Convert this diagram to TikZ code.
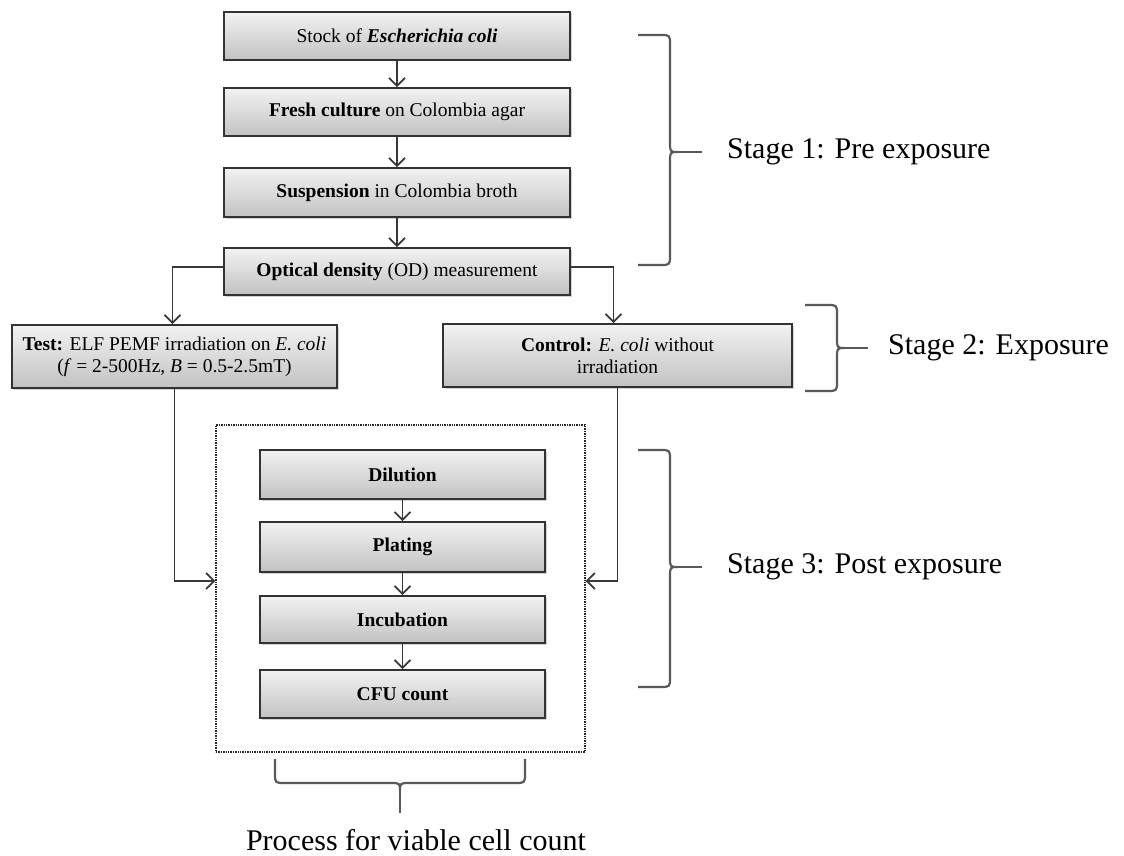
\documentclass[tikz,border=0pt]{standalone}
\usepackage{fontspec}
\setmainfont{Liberation Serif}
\usetikzlibrary{arrows.meta,shadows}

\begin{document}
\begin{tikzpicture}[x=1pt,y=-1pt,
  box/.style={draw=black!80, line width=1.9pt, top color=white!95!black, bottom color=black!24,
    drop shadow={shadow xshift=1.5pt, shadow yshift=-1.5pt, opacity=0.35},
    align=center, inner sep=2pt, font=\fontsize{19.5}{22}\selectfont},
  arr/.style={draw=black!78, line width=1.7pt,
    -{Straight Barb[length=8pt,width=16pt,line width=1.7pt]}},
  brace/.style={draw=black!65, line width=2.2pt, line join=round},
  stagetxt/.style={anchor=west, inner sep=0pt, font=\fontsize{30}{36}\selectfont}]
\useasboundingbox (0,0) rectangle (1124,856);

% stage 1: pre exposure
\node[box, minimum width=346pt, minimum height=48pt] (stock) at (397,36) {Stock of \textbf{\textit{Escherichia coli}}};
\node[box, minimum width=346pt, minimum height=48pt] (fresh) at (397,112) {\textbf{Fresh culture} on Colombia agar};
\node[box, minimum width=346pt, minimum height=49pt] (susp) at (397,192.5) {\textbf{Suspension} in Colombia broth};
\node[box, minimum width=346pt, minimum height=47pt] (od) at (397,271.5) {\textbf{Optical density} (OD) measurement};

% stage 2: exposure
\node[box, minimum width=325pt, minimum height=63pt] (test) at (174.5,356.5)
  {\textbf{Test:} ELF PEMF irradiation on \textit{E. coli}\\(\textit{f} = 2-500Hz, \textit{B} = 0.5-2.5mT)};
\node[box, minimum width=349pt, minimum height=63pt] (ctrl) at (617.5,355.5)
  {\textbf{Control:} \textit{E. coli} without\\irradiation};

% stage 3: viable cell count
\node[draw=black!85, line width=1.4pt, densely dotted, minimum width=369pt, minimum height=327pt] (vcc) at (400.5,588.5) {};
\node[box, minimum width=285pt, minimum height=49pt] (dil) at (402.5,474.5) {\textbf{Dilution}};
\node[box, minimum width=285pt, minimum height=50pt] (plat) at (402.5,547) {\textbf{Plating}};
\node[box, minimum width=285pt, minimum height=47pt] (incu) at (402.5,619.5) {\textbf{Incubation}};
\node[box, minimum width=285pt, minimum height=48pt] (cfu) at (402.5,694) {\textbf{CFU count}};

% connectors
\draw[arr] (stock) -- (fresh);
\draw[arr] (fresh) -- (susp);
\draw[arr] (susp) -- (od);
\draw[arr] ([yshift=4.5pt]od.west) -| ([xshift=-2pt]test.north);
\draw[arr] ([yshift=4.5pt]od.east) -| ([xshift=-4pt]ctrl.north);
\draw[arr] (test.south) |- ([yshift=7.5pt]vcc.west);
\draw[arr] (ctrl.south) |- ([yshift=7.5pt]vcc.east);
\draw[arr] (dil) -- (plat);
\draw[arr] (plat) -- (incu);
\draw[arr] (incu) -- (cfu);

% braces and stage labels
\draw[brace] (638,35) -- (660,35) .. controls (670,35) .. (670,45) -- (670,142)
  .. controls (670,152) .. (678,152) .. controls (670,152) .. (670,162) -- (670,255)
  .. controls (670,265) .. (660,265) -- (638,265);
\draw[brace] (676,152) -- (702,152);
\node[stagetxt] (s1) at (727,152) {Stage 1: Pre exposure};

\draw[brace] (805,305) -- (827,305) .. controls (837,305) .. (837,315) -- (837,338)
  .. controls (837,348) .. (845,348) .. controls (837,348) .. (837,358) -- (837,381)
  .. controls (837,391) .. (827,391) -- (805,391);
\draw[brace] (843,348) -- (868,348);
\node[stagetxt] (s2) at (888,348) {Stage 2: Exposure};

\draw[brace] (638,450) -- (660,450) .. controls (670,450) .. (670,460) -- (670,557)
  .. controls (670,567) .. (678,567) .. controls (670,567) .. (670,577) -- (670,677)
  .. controls (670,687) .. (660,687) -- (638,687);
\draw[brace] (676,567) -- (702,567);
\node[stagetxt] (s3) at (727,567) {Stage 3: Post exposure};

\draw[brace] (275,759) -- (275,773) .. controls (275,783) .. (285,783) -- (390,783)
  .. controls (400,783) .. (400,791) .. controls (400,783) .. (410,783) -- (515,783)
  .. controls (525,783) .. (525,773) -- (525,759);
\draw[brace] (400,789) -- (400,813);
\node[inner sep=0pt, font=\fontsize{30}{36}\selectfont] (proc) at (416,840) {Process for viable cell count};
\end{tikzpicture}
\end{document}
